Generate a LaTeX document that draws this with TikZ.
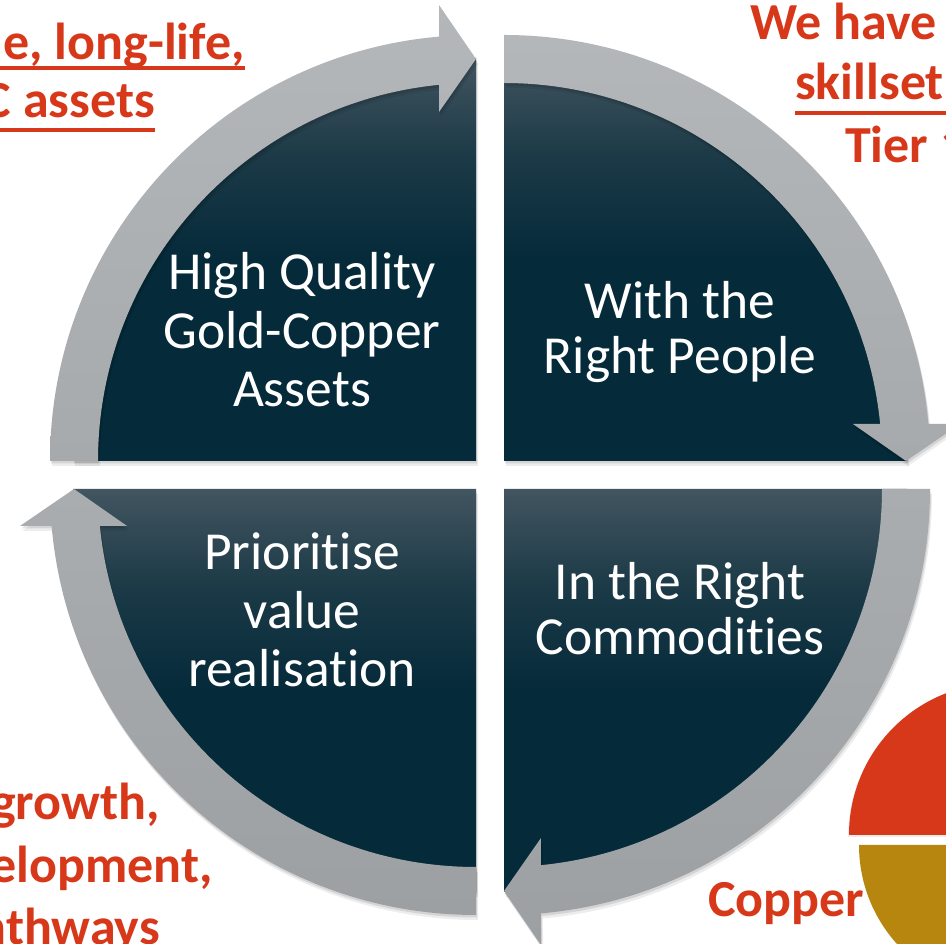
\documentclass[tikz,border=0pt]{standalone}
\usepackage{fontspec}
\setmainfont{Carlito}[Ligatures=NoCommon]
\definecolor{accent}{HTML}{D7381A}
\definecolor{goldslice}{HTML}{B7860F}
\definecolor{wdark}{HTML}{052A3A}
\definecolor{wmid}{HTML}{1C3A47}
\definecolor{wlight}{HTML}{425560}
\definecolor{bandtopA}{HTML}{B4B7BA}
\definecolor{bandbotA}{HTML}{A7AAAD}
\definecolor{bandtopB}{HTML}{AAADB0}
\definecolor{bandbotB}{HTML}{9DA0A3}
% dark segment fill: light at the top, dark from the middle down
\pgfdeclareverticalshading{segshade}{100bp}{color(0bp)=(wdark); color(25bp)=(wdark); color(50bp)=(wdark); color(63bp)=(wmid); color(75bp)=(wlight); color(100bp)=(wlight)}
\begin{document}
\begin{tikzpicture}[x=1pt,y=1pt,
  seglabel/.style={text=white, align=center, anchor=base, inner sep=0pt},
  redtext/.style={text=accent, inner sep=0pt, font=\fontsize{52}{60}\selectfont\bfseries},
  uline/.style={draw=accent, line width=3.5pt},
  segment/.style={shading=segshade},
  shadowA/.style={fill=black, opacity=0.07, shift={(2,-5)}},
  shadowB/.style={fill=black, opacity=0.10, shift={(1,-2.5)}},
]
\useasboundingbox (0,0) rectangle (946,944);
\clip (0,0) rectangle (946,944);
\fill[white] (0,0) rectangle (946,944);

% ---- four dark segments (centre x, centre y, start angle)
\foreach \cx/\cy/\s in {476/483/180, 504/483/90, 504/455/0, 476/455/-90}{
  \pgfmathsetmacro\e{\s-90}
  \def\segpath{(\cx,\cy) -- ([shift={(\cx,\cy)}]\s:403) arc[start angle=\s, end angle=\e, radius=403pt] -- cycle}
  \fill[shadowA] \segpath;
  \fill[shadowB] \segpath;
  \path[segment] \segpath;
}

% ---- four curved arrows, running clockwise round the segments
\foreach \cx/\cy/\s/\ct/\cb in {476/483/180/bandtopA/bandbotA, 504/483/90/bandtopA/bandbotA, 504/455/0/bandtopB/bandbotB, 476/455/-90/bandtopB/bandbotB}{
  \pgfmathsetmacro\e{\s-90}
  \def\bandpath{([shift={(\cx,\cy)}]\s:426)
    arc[start angle=\s, end angle=\e+4.982, radius=426pt]
    -- ([shift={(\cx,\cy)}]{\e+4.639}:457.5)
    -- ([shift={(\cx,\cy)}]{\e}:402)
    -- ([shift={(\cx,\cy)}]{\e+6.052}:350.96)
    -- ([shift={(\cx,\cy)}]{\e+5.617}:378)
    arc[start angle=\e+5.617, end angle=\s, radius=378pt] -- cycle}
  \fill[shadowA] \bandpath;
  \fill[shadowB] \bandpath;
  \path[top color=\ct, bottom color=\cb] \bandpath;
}

% ---- segment labels (anchored at the baseline of their last line)
\node[seglabel, font=\fontsize{53.5}{58.5}\selectfont] (assets) at (302,537) {High Quality\\Gold-Copper\\Assets};
\node[seglabel, font=\fontsize{53.5}{55}\selectfont] (people) at (680,570) {With the\\Right People};
\node[seglabel, font=\fontsize{53.5}{55}\selectfont] (commod) at (680,289) {In the Right\\Commodities};
\node[seglabel, font=\fontsize{53.5}{58.5}\selectfont] (value) at (302,257) {Prioritise\\value\\realisation};

% ---- pie on the right
\fill[black, opacity=0.08] (1002,107) -- ++(0:154) arc[start angle=0, end angle=180, radius=154pt] -- cycle;
\fill[accent] (1001,109) -- ++(0:152) arc[start angle=0, end angle=180, radius=152pt] -- cycle;
\fill[goldslice] (1007,99) -- ++(180:148) arc[start angle=180, end angle=360, radius=148pt] -- cycle;

% ---- red captions
\node[redtext, anchor=base east] (capA1) at (245,884) {e, long-life,};
\node[redtext, anchor=base east] (capA2) at (155,826) {C assets};
\draw[uline] (0,876) -- (245,876);
\draw[uline] (0,814) -- (155,814);

\node[redtext, anchor=base west] (capB1) at (750,904) {We have};
\node[redtext, anchor=base west] (capB2) at (795,844) {skillset};
\node[redtext, anchor=base west] (capB3) at (845,781) {Tier 1};
\draw[uline] (795,831) -- (946,831);

\node[redtext, anchor=base east] (capC1) at (160,124) {growth,};
\node[redtext, anchor=base east] (capC2) at (213,61) {elopment,};
\node[redtext, anchor=base east] (capC3) at (160,-1) {nthways};

\node[redtext, anchor=base west] (capD1) at (708,27) {Copper};
\end{tikzpicture}
\end{document}
